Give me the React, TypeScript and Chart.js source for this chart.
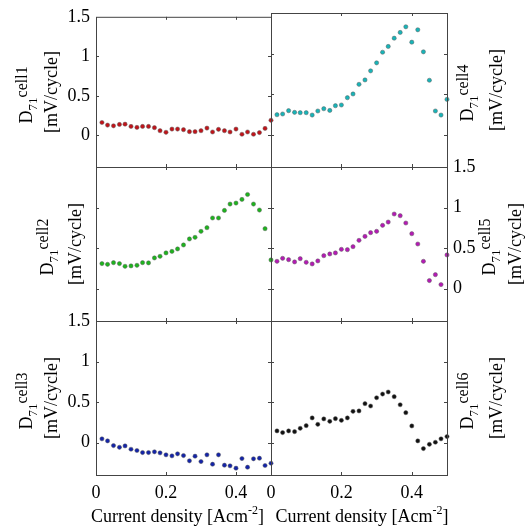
import React, { useEffect, useRef } from "react";
import { Chart, registerables } from "chart.js";

Chart.register(...registerables);

// ---- data ----
const X_VALUES = [
  0.017, 0.033, 0.05, 0.067, 0.083, 0.1, 0.117, 0.133, 0.15, 0.167,
  0.183, 0.2, 0.217, 0.233, 0.25, 0.267, 0.283, 0.3, 0.317, 0.333,
  0.35, 0.367, 0.383, 0.4, 0.417, 0.433, 0.45, 0.467, 0.483, 0.5,
];

const CELL1 = [
  0.163, 0.13, 0.121, 0.138, 0.142, 0.113, 0.101, 0.113, 0.113, 0.097,
  0.059, 0.039, 0.08, 0.08, 0.072, 0.047, 0.047, 0.059, 0.092, 0.043,
  0.076, 0.059, 0.043, 0.08, 0.014, 0.043, 0.014, 0.035, 0.088, 0.191,
];
const CELL2 = [
  0.308, 0.299, 0.32, 0.308, 0.275, 0.28, 0.287, 0.32, 0.317, 0.378,
  0.398, 0.44, 0.459, 0.489, 0.538, 0.612, 0.632, 0.706, 0.751, 0.871,
  0.871, 0.964, 1.043, 1.055, 1.1, 1.161, 1.043, 0.969, 0.739, 0.353,
];
const CELL3 = [
  0.046, 0.021, -0.037, -0.058, -0.041, -0.082, -0.098, -0.123, -0.123, -0.114,
  -0.127, -0.151, -0.164, -0.139, -0.16, -0.225, -0.168, -0.234, -0.151, -0.267,
  -0.151, -0.279, -0.287, -0.316, -0.197, -0.304, -0.2, -0.193, -0.283, -0.255,
];
const CELL4 = [
  0.245, 0.254, 0.295, 0.274, 0.27, 0.27, 0.241, 0.291, 0.319, 0.298,
  0.356, 0.365, 0.455, 0.501, 0.62, 0.674, 0.786, 0.885, 1.016, 1.087,
  1.189, 1.26, 1.33, 1.14, 1.293, 1.021, 0.67, 0.291, 0.241, 0.434,
];
const CELL5 = [
  0.336, 0.373, 0.357, 0.329, 0.369, 0.324, 0.304, 0.341, 0.406, 0.427,
  0.44, 0.484, 0.48, 0.517, 0.595, 0.644, 0.69, 0.706, 0.78, 0.821,
  0.92, 0.899, 0.809, 0.677, 0.55, 0.336, 0.099, 0.172, 0.049, 0.415,
];
const CELL6 = [
  0.144, 0.123, 0.144, 0.135, 0.176, 0.209, 0.304, 0.225, 0.292, 0.262,
  0.295, 0.274, 0.304, 0.385, 0.39, 0.48, 0.451, 0.553, 0.599, 0.624,
  0.566, 0.467, 0.369, 0.205, 0.021, -0.074, -0.021, 0.004, 0.046, 0.074,
];

const Y_TICKS = [0, 0.5, 1, 1.5];
const Y_TICK_LABELS = ["0", "0.5", "1", "1.5"];
const X_TICKS = [0, 0.2, 0.4];
const X_TICK_LABELS = ["0", "0.2", "0.4"];
const CELL_NAMES = ["cell1", "cell2", "cell3", "cell4", "cell5", "cell6"];
const Y_UNIT = "[mV/cycle]";
const X_TITLE_MAIN = "Current density [Acm";
const X_TITLE_SUP = "-2";
const X_TITLE_END = "]";

// ---- layout / style ----
const W = 531;
const H = 528;
const COLS = [96, 271, 447];
const ROWS = [13, 167, 321, 475];
const X_MIN = 0;
const X_MAX = 0.5;
const Y_MIN = -0.4;
const Y_MAX = 1.5;
const FONT = '"Liberation Serif", "Times New Roman", serif';
const TICK_AXIS_W = 40;
const X_AXIS_H = 30;

type Panel = {
  data: number[];
  color: string;
  name: string;
  col: number;
  row: number;
  yLabels: "left" | "right" | null;
  xLabels: boolean;
  line1X: number;
  line2X: number;
};

const PANELS: Panel[] = [
  { data: CELL1, color: "#c0141a", name: CELL_NAMES[0], col: 0, row: 0, yLabels: "left", xLabels: false, line1X: 32, line2X: 57 },
  { data: CELL2, color: "#1db41d", name: CELL_NAMES[1], col: 0, row: 1, yLabels: null, xLabels: false, line1X: 53, line2X: 81 },
  { data: CELL3, color: "#1424a8", name: CELL_NAMES[2], col: 0, row: 2, yLabels: "left", xLabels: true, line1X: 32, line2X: 57 },
  { data: CELL4, color: "#18b4b8", name: CELL_NAMES[3], col: 1, row: 0, yLabels: null, xLabels: false, line1X: 473, line2X: 502 },
  { data: CELL5, color: "#b41ab4", name: CELL_NAMES[4], col: 1, row: 1, yLabels: "right", xLabels: false, line1X: 495, line2X: 521 },
  { data: CELL6, color: "#111111", name: CELL_NAMES[5], col: 1, row: 2, yLabels: null, xLabels: true, line1X: 473, line2X: 502 },
];

type Part = { text: string; size: number; dy: number };

function drawRotated(ctx: CanvasRenderingContext2D, xBase: number, yCenter: number, parts: Part[]) {
  ctx.save();
  let total = 0;
  for (const p of parts) {
    ctx.font = `${p.size}px ${FONT}`;
    total += ctx.measureText(p.text).width;
  }
  ctx.translate(xBase, yCenter);
  ctx.rotate(-Math.PI / 2);
  ctx.textBaseline = "alphabetic";
  ctx.textAlign = "left";
  ctx.fillStyle = "#000";
  let cur = -total / 2;
  for (const p of parts) {
    ctx.font = `${p.size}px ${FONT}`;
    ctx.fillText(p.text, cur, p.dy);
    cur += ctx.measureText(p.text).width;
  }
  ctx.restore();
}

function drawHorizontal(ctx: CanvasRenderingContext2D, xCenter: number, yBase: number, parts: Part[]) {
  ctx.save();
  let total = 0;
  for (const p of parts) {
    ctx.font = `${p.size}px ${FONT}`;
    total += ctx.measureText(p.text).width;
  }
  ctx.textBaseline = "alphabetic";
  ctx.textAlign = "left";
  ctx.fillStyle = "#000";
  let cur = xCenter - total / 2;
  for (const p of parts) {
    ctx.font = `${p.size}px ${FONT}`;
    ctx.fillText(p.text, cur, yBase + p.dy);
    cur += ctx.measureText(p.text).width;
  }
  ctx.restore();
}

function makeChart(canvas: HTMLCanvasElement, p: Panel) {
  const left = COLS[p.col];
  const right = COLS[p.col + 1];
  const top = ROWS[p.row];
  const bottom = ROWS[p.row + 1];

  const padding = {
    left: p.yLabels === "left" ? left - TICK_AXIS_W : left,
    right: p.yLabels === "right" ? W - right - TICK_AXIS_W : W - right,
    top: top,
    bottom: p.xLabels ? H - bottom - X_AXIS_H : H - bottom,
  };

  const framePlugin = {
    id: "frame" + p.name,
    afterDraw(chart: any) {
      const ctx: CanvasRenderingContext2D = chart.ctx;
      const a = chart.chartArea;
      const xs = chart.scales.x;
      const ys = chart.scales.y;
      ctx.save();
      ctx.strokeStyle = "#444";
      ctx.lineWidth = 1;
      ctx.strokeRect(a.left + 0.5, a.top + 0.5, a.right - a.left, a.bottom - a.top);
      ctx.beginPath();
      for (const v of X_TICKS) {
        if (v === X_MIN) continue;
        const px = Math.round(xs.getPixelForValue(v)) + 0.5;
        ctx.moveTo(px, a.bottom);
        ctx.lineTo(px, a.bottom - 3);
        ctx.moveTo(px, a.top);
        ctx.lineTo(px, a.top + 3);
      }
      for (const v of Y_TICKS) {
        if (v === Y_MAX) continue;
        const py = Math.round(ys.getPixelForValue(v)) + 0.5;
        ctx.moveTo(a.left, py);
        ctx.lineTo(a.left + 3, py);
        ctx.moveTo(a.right, py);
        ctx.lineTo(a.right - 3, py);
      }
      ctx.stroke();
      ctx.restore();

      const yc = (a.top + a.bottom) / 2;
      drawRotated(ctx, p.line1X, yc + 3, [
        { text: "D", size: 18, dy: 0 },
        { text: "71", size: 13, dy: 5 },
        { text: p.name, size: 16, dy: -5 },
      ]);
      drawRotated(ctx, p.line2X, yc, [{ text: Y_UNIT, size: 18, dy: 0 }]);

      if (p.xLabels) {
        const xc = (a.left + a.right) / 2 + (p.col === 0 ? -6 : 3);
        drawHorizontal(ctx, xc, 522, [
          { text: X_TITLE_MAIN, size: 18, dy: 0 },
          { text: X_TITLE_SUP, size: 12, dy: -8 },
          { text: X_TITLE_END, size: 18, dy: 0 },
        ]);
      }
    },
  };

  return new Chart(canvas, {
    type: "scatter",
    data: {
      datasets: [
        {
          data: X_VALUES.map((x, i) => ({ x, y: p.data[i] })),
          backgroundColor: p.color,
          borderColor: "rgba(90,90,90,0.8)",
          borderWidth: 0.6,
          pointStyle: "circle",
          pointRadius: 2.1,
          clip: false as any,
        },
      ],
    },
    options: {
      animation: false,
      responsive: false,
      events: [],
      layout: { padding },
      plugins: { legend: { display: false }, tooltip: { enabled: false } },
      scales: {
        x: {
          type: "linear",
          position: "bottom",
          min: X_MIN,
          max: X_MAX,
          display: p.xLabels,
          grid: { display: false, drawTicks: false },
          border: { display: false },
          afterBuildTicks: (s: any) => {
            s.ticks = X_TICKS.map((v) => ({ value: v }));
          },
          afterFit: (s: any) => {
            s.height = p.xLabels ? X_AXIS_H : 0;
          },
          ticks: {
            autoSkip: false,
            maxRotation: 0,
            padding: 7,
            color: "#000",
            font: { family: FONT, size: 18 },
            callback: (v: any) => X_TICK_LABELS[X_TICKS.indexOf(Number(v))] ?? "",
          },
        },
        y: {
          type: "linear",
          position: p.yLabels === "right" ? "right" : "left",
          min: Y_MIN,
          max: Y_MAX,
          display: p.yLabels !== null,
          grid: { display: false, drawTicks: false },
          border: { display: false },
          afterBuildTicks: (s: any) => {
            s.ticks = Y_TICKS.map((v) => ({ value: v }));
          },
          afterFit: (s: any) => {
            s.width = p.yLabels !== null ? TICK_AXIS_W : 0;
          },
          ticks: {
            autoSkip: false,
            padding: 6,
            color: "#000",
            font: { family: FONT, size: 18 },
            callback: (v: any) => Y_TICK_LABELS[Y_TICKS.indexOf(Number(v))] ?? "",
          },
        },
      },
    },
    plugins: [framePlugin],
  } as any);
}

export default function App() {
  const refs = useRef<(HTMLCanvasElement | null)[]>([]);

  useEffect(() => {
    const charts = PANELS.map((p, i) => makeChart(refs.current[i] as HTMLCanvasElement, p));
    return () => {
      charts.forEach((c) => c.destroy());
    };
  }, []);

  return (
    <div style={{ position: "absolute", left: 0, top: 0, width: W, height: H, background: "#fff", overflow: "hidden" }}>
      {PANELS.map((p, i) => (
        <canvas
          key={p.name}
          ref={(el) => {
            refs.current[i] = el;
          }}
          width={W}
          height={H}
          style={{ position: "absolute", left: 0, top: 0, width: W, height: H }}
        />
      ))}
    </div>
  );
}
